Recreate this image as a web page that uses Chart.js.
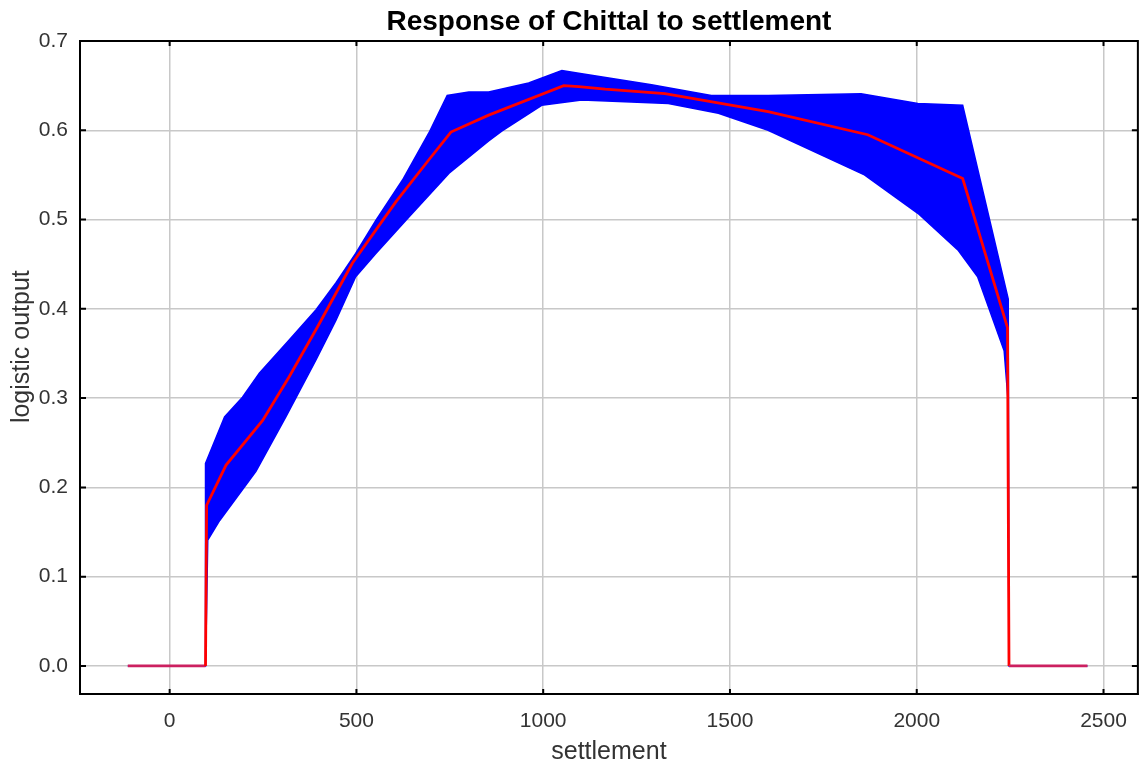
<!DOCTYPE html>
<html>
<head>
<meta charset="utf-8">
<script src="https://cdn.jsdelivr.net/npm/chart.js@4.4.1/dist/chart.umd.min.js"></script>
<style>
  html, body { margin: 0; padding: 0; background: #fff; }
  #wrap { width: 1142px; height: 769px; }
</style>
</head>
<body>
<div id="wrap"><canvas id="respChart"></canvas></div>
<script>
// values
const xTicks = [0, 500, 1000, 1500, 2000, 2500];
const yTicks = [0, 0.1, 0.2, 0.3, 0.4, 0.5, 0.6, 0.7];

const meanX = [-112, 96, 99, 151, 249, 320, 396, 489, 606, 694, 753, 854, 1055, 1095, 1166, 1326, 1602, 1869, 2123, 2243, 2247, 2457];
const meanY = [0, 0, 0.180, 0.225, 0.275, 0.324, 0.380, 0.451, 0.520, 0.567, 0.598, 0.617, 0.650, 0.649, 0.646, 0.641, 0.621, 0.595, 0.546, 0.379, 0, 0];

const upperX = [-112, 96, 96, 147, 195, 240, 320, 392, 445, 498, 552, 623, 694, 743, 801, 854, 961, 1050, 1095, 1290, 1450, 1602, 1851, 2003, 2123, 2245, 2247, 2457];
const upperY = [0, 0, 0.227, 0.279, 0.301, 0.328, 0.365, 0.399, 0.429, 0.462, 0.499, 0.544, 0.597, 0.639, 0.643, 0.643, 0.653, 0.667, 0.664, 0.651, 0.639, 0.639, 0.641, 0.630, 0.628, 0.411, 0, 0];

const lowerX = [-112, 96, 99, 102, 134, 231, 311, 392, 445, 498, 552, 632, 748, 854, 889, 996, 1103, 1335, 1469, 1602, 1860, 2003, 2110, 2163, 2234, 2244, 2247, 2457];
const lowerY = [0, 0, 0.066, 0.141, 0.163, 0.218, 0.279, 0.343, 0.387, 0.436, 0.462, 0.499, 0.552, 0.588, 0.599, 0.628, 0.634, 0.630, 0.619, 0.600, 0.550, 0.507, 0.466, 0.436, 0.353, 0.300, 0, 0];

const toPts = (xs, ys) => xs.map((x, i) => ({ x, y: ys[i] }));
// closed outline: upper edge forward, lower edge back
const bandPts = toPts(upperX, upperY).concat(toPts(lowerX, lowerY).reverse());

// ticks pointing into the plot on all four sides, plus the top/right frame
const frame = {
  id: 'frame',
  afterDraw(chart) {
    const { ctx, chartArea: a, scales } = chart;
    ctx.save();
    ctx.strokeStyle = '#000';
    ctx.lineWidth = 2;
    ctx.strokeRect(a.left, a.top, a.right - a.left, a.bottom - a.top);
    ctx.beginPath();
    scales.x.ticks.forEach(t => {
      const px = scales.x.getPixelForValue(t.value);
      ctx.moveTo(px, a.bottom); ctx.lineTo(px, a.bottom - 5);
      ctx.moveTo(px, a.top); ctx.lineTo(px, a.top + 5);
    });
    scales.y.ticks.forEach(t => {
      const py = scales.y.getPixelForValue(t.value);
      ctx.moveTo(a.left, py); ctx.lineTo(a.left + 6, py);
      ctx.moveTo(a.right, py); ctx.lineTo(a.right - 6, py);
    });
    ctx.stroke();
    ctx.restore();
  }
};

Chart.defaults.font.family = '"Liberation Sans", Arial, sans-serif';
Chart.defaults.color = '#333';

const flatZero = c => (c.p0.parsed.y === 0 && c.p1.parsed.y === 0 ? '#cc2060' : undefined);

new Chart(document.getElementById('respChart').getContext('2d'), {
  type: 'line',
  data: {
    datasets: [
      { label: 'mean', data: toPts(meanX, meanY), borderColor: '#ff0000', borderWidth: 2.8, pointRadius: 0, tension: 0, fill: false, order: 0,
        segment: { borderColor: flatZero } },
      { label: 'band', data: bandPts, borderColor: '#0000ff', backgroundColor: '#0000ff', borderWidth: 1.5, pointRadius: 0, tension: 0, fill: 'shape', order: 1 },
    ],
  },
  options: {
    responsive: true,
    maintainAspectRatio: false,
    animation: false,
    layout: { padding: { left: 0, right: 1, top: 0, bottom: 0 } },
    plugins: {
      legend: { display: false },
      tooltip: { enabled: false },
      title: {
        display: true,
        fullSize: false,
        text: 'Response of Chittal to settlement',
        color: '#000',
        font: { size: 28, weight: 'bold' },
        padding: { top: 5, bottom: 2.4 },
      },
    },
    scales: {
      x: {
        type: 'linear',
        min: -240,
        max: 2592,
        afterBuildTicks: s => { s.ticks = xTicks.map(v => ({ value: v })); },
        afterFit: s => { s.height = 75; },
        ticks: { font: { size: 21 }, padding: 15, color: '#333', callback: v => String(v) },
        grid: { color: '#c8c8c8', lineWidth: 1.5, drawTicks: false },
        border: { color: '#000', width: 2 },
        title: { display: true, text: 'settlement', font: { size: 25 }, color: '#333', padding: { top: 0, bottom: 2 } },
      },
      y: {
        type: 'linear',
        min: -0.0314,
        max: 0.7,
        afterBuildTicks: s => { s.ticks = yTicks.map(v => ({ value: v })); },
        afterFit: s => { s.width = 80; },
        ticks: { font: { size: 21 }, padding: 12, color: '#333', callback: v => v.toFixed(1) },
        grid: { color: '#c8c8c8', lineWidth: 1.5, drawTicks: false },
        border: { color: '#000', width: 2 },
        // leading spaces nudge the label up, as in the original
        title: { display: true, text: '      logistic output', font: { size: 25 }, color: '#333', padding: { top: 7, bottom: 0 } },
      },
    },
  },
  plugins: [frame],
});
</script>
</body>
</html>
